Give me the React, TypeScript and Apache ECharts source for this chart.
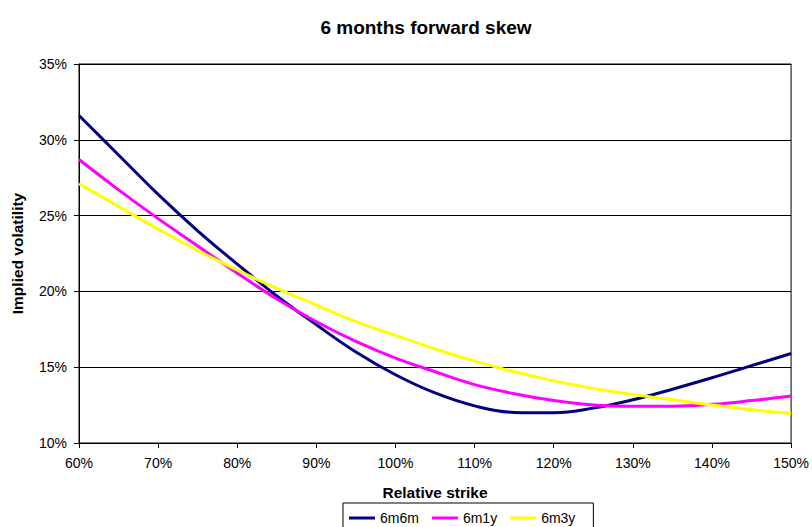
import React, { useEffect, useRef } from "react";
import * as echarts from "echarts";

const strikes = [60, 65, 70, 75, 80, 85, 90, 95, 100, 105, 110, 115, 120, 125, 130, 135, 140, 145, 150];
const s6m6m = [31.6, 29.0, 26.4, 24.0, 21.8, 19.7, 17.8, 16.0, 14.5, 13.3, 12.45, 12.02, 12.0, 12.3, 12.85, 13.55, 14.3, 15.1, 15.9];
const s6m1y = [28.7, 26.7, 24.8, 23.0, 21.2, 19.5, 18.0, 16.7, 15.6, 14.7, 13.85, 13.25, 12.8, 12.5, 12.42, 12.42, 12.55, 12.8, 13.1];
const s6m3y = [27.1, 25.6, 24.1, 22.7, 21.4, 20.2, 19.1, 18.0, 17.1, 16.2, 15.4, 14.7, 14.1, 13.6, 13.2, 12.85, 12.5, 12.2, 11.95];
const seriesNames = ["6m6m", "6m1y", "6m3y"];
const seriesColors = ["#000080", "#FF00FF", "#FFFF00"];

const FONT = "'Liberation Sans', Arial, sans-serif";

export default function App() {
  const ref = useRef<HTMLDivElement>(null);
  useEffect(() => {
    if (!ref.current) return;
    const chart = echarts.init(ref.current, undefined, { renderer: "svg" });
    const all = [s6m6m, s6m1y, s6m3y];
    chart.setOption({
      animation: false,
      backgroundColor: "#fff",
      textStyle: { fontFamily: FONT },
      title: {
        text: "6 months forward skew",
        left: 421,
        textAlign: "center",
        top: 13,
        textStyle: { fontFamily: FONT, fontSize: 19, fontWeight: "bold", color: "#000" },
      },
      grid: {
        left: 79,
        right: 17,
        top: 64,
        bottom: 84,
        show: true,
        borderColor: "#000",
        borderWidth: 1,
        backgroundColor: "transparent",
      },
      legend: {
        left: 343,
        top: 503,
        orient: "horizontal",
        icon: "rect",
        itemWidth: 26,
        itemHeight: 3,
        itemGap: 13,
        padding: [8, 18, 8, 6],
        borderColor: "#000",
        borderWidth: 1,
        textStyle: { fontFamily: FONT, fontSize: 14, color: "#000" },
        data: seriesNames,
      },
      xAxis: {
        type: "value",
        min: 60,
        max: 150,
        interval: 10,
        name: "Relative strike",
        nameLocation: "middle",
        nameGap: 41,
        nameTextStyle: { fontFamily: FONT, fontSize: 15.5, fontWeight: "bold", color: "#000" },
        axisLine: { show: true, lineStyle: { color: "#000", width: 1 } },
        axisTick: { show: true, length: 5, inside: false, lineStyle: { color: "#000" } },
        axisLabel: { formatter: "{value}%", fontFamily: FONT, fontSize: 14, color: "#000", margin: 13 },
        splitLine: { show: false },
      },
      yAxis: {
        type: "value",
        min: 10,
        max: 35,
        interval: 5,
        name: "Implied volatility",
        nameLocation: "middle",
        nameGap: 54,
        nameTextStyle: { fontFamily: FONT, fontSize: 15.5, fontWeight: "bold", color: "#000" },
        axisLine: { show: true, lineStyle: { color: "#000", width: 1 } },
        axisTick: { show: true, length: 5, inside: false, lineStyle: { color: "#000" } },
        axisLabel: { formatter: "{value}%", fontFamily: FONT, fontSize: 14, color: "#000", margin: 12 },
        splitLine: { show: true, lineStyle: { color: "#000", width: 1 } },
      },
      series: seriesNames.map((name, i) => ({
        name,
        type: "line",
        smooth: 0.4,
        showSymbol: false,
        symbol: "none",
        color: seriesColors[i],
        lineStyle: { color: seriesColors[i], width: 3 },
        data: strikes.map((x, j) => [x, all[i][j]]),
      })),
    });
    return () => chart.dispose();
  }, []);
  return (
    <div
      ref={ref}
      style={{ position: "absolute", left: 0, top: 0, width: 812, height: 527 }}
    />
  );
}
